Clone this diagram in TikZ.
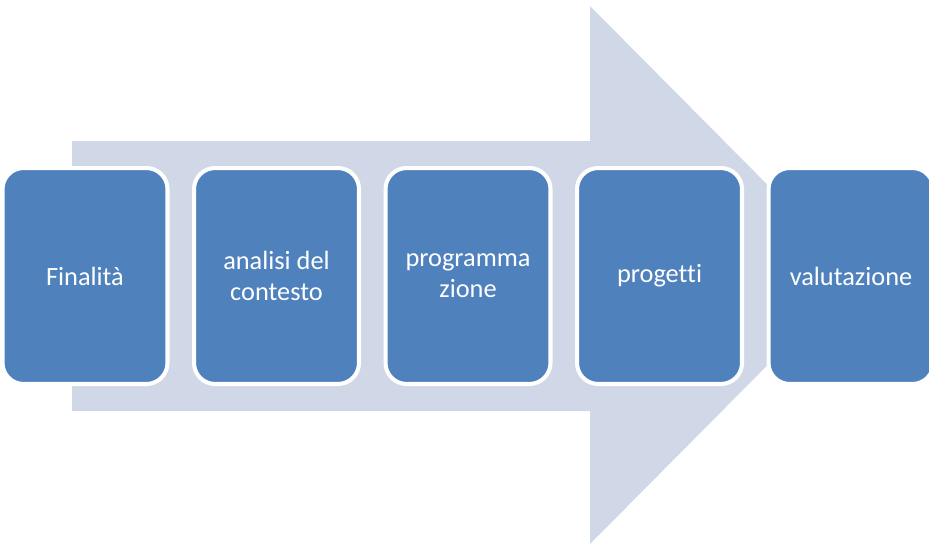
\documentclass[tikz,border=0pt]{standalone}
\usepackage{fontspec}
\setmainfont[Ligatures=NoCommon]{Carlito}
\usetikzlibrary{positioning}
\usepackage{xcolor}
\definecolor{stepBlue}{HTML}{4F81BD}
\definecolor{arrowPale}{HTML}{D0D8E8}

\begin{document}
\begin{tikzpicture}[x=0.02cm,y=-0.02cm,node distance=0.45cm]
\tikzstyle{phase}=[draw=white,line width=2.3pt,fill=stepBlue,rounded corners=12pt,minimum width=3.3cm,minimum height=4.32cm,align=center,text=white,font=\fontsize{15}{17.5}\selectfont,inner sep=2pt]
\useasboundingbox (0,0) rectangle (929,545);
% big arrow behind the phases
\fill[arrowPale] (72,141) -- (590,141) -- (590,6) -- (857,275) -- (590,544) -- (590,411) -- (72,411) -- cycle;
\node[phase] at (85,276) (fin) {Finalità};
\node[phase,right=of fin] (ana) {analisi del\\contesto};
\node[phase,right=of ana] (prog) {programma\\zione};
\node[phase,right=of prog] (proj) {progetti};
\node[phase,right=of proj] (val) {valutazione};
\end{tikzpicture}
\end{document}
